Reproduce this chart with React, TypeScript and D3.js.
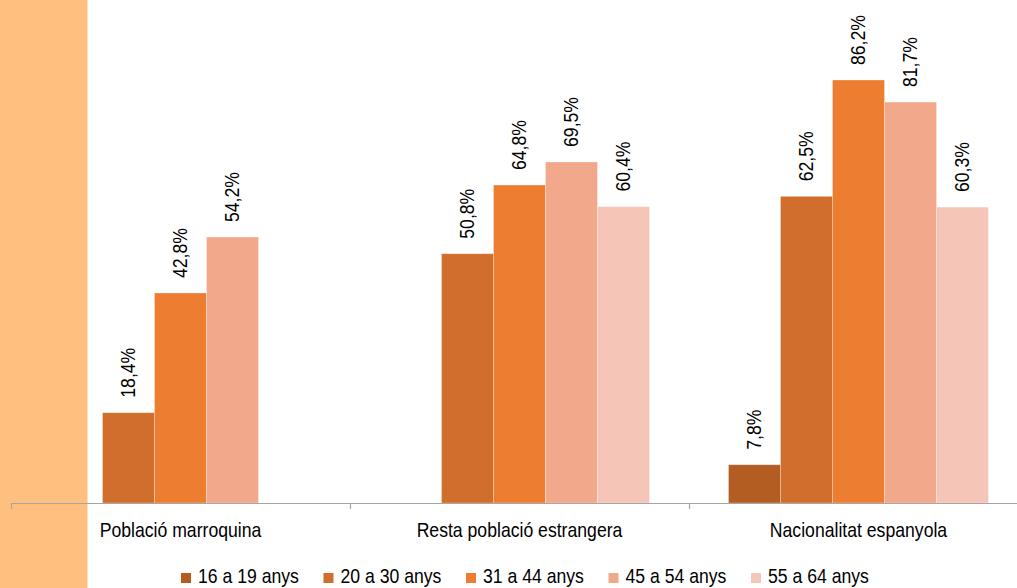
import React from "react";
import * as d3 from "d3";

const categories = ["Població marroquina", "Resta població estrangera", "Nacionalitat espanyola"];
const series = ["16 a 19 anys", "20 a 30 anys", "31 a 44 anys", "45 a 54 anys", "55 a 64 anys"];
const values16_19: (number | null)[] = [null, null, 7.8];
const values20_30: (number | null)[] = [18.4, 50.8, 62.5];
const values31_44: (number | null)[] = [42.8, 64.8, 86.2];
const values45_54: (number | null)[] = [54.2, 69.5, 81.7];
const values55_64: (number | null)[] = [null, 60.4, 60.3];
const seriesValues = [values16_19, values20_30, values31_44, values45_54, values55_64];
const colors = ["#B45D23", "#D16E2B", "#ED7D31", "#F1A88B", "#F5C6B8"];

const W = 1017;
const H = 588;
const FONT = "'Liberation Sans', Arial, sans-serif";
const FS = 20.5;
const SX = 0.86;

export default function App() {
  const x0 = d3.scaleBand<string>().domain(categories).range([11, 1028]).paddingInner(0).paddingOuter(0);
  const groupW = 260;
  const x1 = d3.scaleBand<string>().domain(series).range([0, groupW]).padding(0);
  const y = d3.scaleLinear().domain([0, 100]).range([503, 12.3]);
  const fmt = (v: number) => v.toFixed(1).replace(".", ",") + "%";

  const ticks = [...categories.map((c) => x0(c)!), x0(categories[2])! + x0.bandwidth()];

  return (
    <div style={{ position: "fixed", left: 0, top: 0 }}>
      <svg width={W} height={H} style={{ display: "block", fontFamily: FONT }}>
        <rect x={0} y={0} width={W} height={H} fill="#ffffff" />
        <rect x={0} y={0} width={87.5} height={H} fill="#FFBF7F" />
        {categories.map((c, ci) => {
          const gx = x0(c)! + (x0.bandwidth() - groupW) / 2;
          return (
            <g key={c}>
              {series.map((s, si) => {
                const v = seriesValues[si][ci];
                if (v == null) return null;
                const bx = gx + x1(s)!;
                const bw = x1.bandwidth();
                const cx = bx + bw / 2;
                const ty = y(v) - 15;
                return (
                  <g key={s}>
                    <rect x={bx} y={y(v)} width={bw} height={y(0) - y(v)} fill={colors[si]} stroke="#ffffff" strokeOpacity={0.35} strokeWidth={0.8} />
                    <text
                      transform={`translate(${cx},${ty}) rotate(-90) scale(${SX},1)`}
                      textAnchor="start"
                      dominantBaseline="central"
                      fontSize={FS}
                      fill="#000"
                    >
                      {fmt(v)}
                    </text>
                  </g>
                );
              })}
              <text
                transform={`translate(${x0(c)! + x0.bandwidth() / 2},537) scale(${SX},1)`}
                textAnchor="middle"
                fontSize={FS}
                fill="#000"
              >
                {c}
              </text>
            </g>
          );
        })}
        <line x1={11} x2={W} y1={503.5} y2={503.5} stroke="#A6A6A6" strokeWidth={1.2} />
        {ticks.map((t, i) => (
          <line key={i} x1={Math.round(t) + 0.5} x2={Math.round(t) + 0.5} y1={503} y2={509} stroke="#A6A6A6" strokeWidth={1.2} />
        ))}
        {series.map((s, si) => {
          const lx = 181 + si * 142.5;
          return (
            <g key={s}>
              <rect x={lx} y={573} width={10} height={10} fill={colors[si]} />
              <text transform={`translate(${lx + 17},583) scale(${SX},1)`} fontSize={FS} fill="#000">
                {s}
              </text>
            </g>
          );
        })}
      </svg>
    </div>
  );
}
